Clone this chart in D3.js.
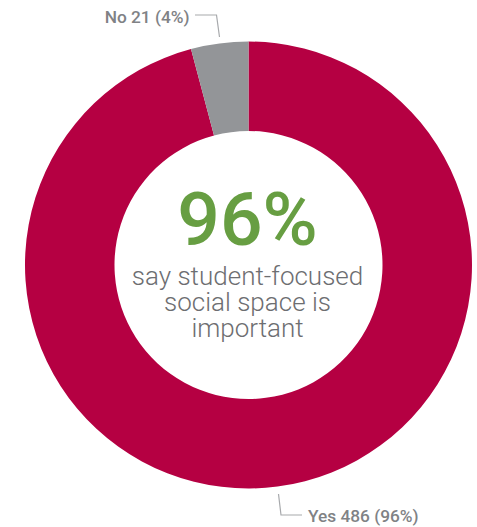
<!DOCTYPE html>
<html><head><meta charset="utf-8">
<script src="https://cdn.jsdelivr.net/npm/d3@7"></script>
<style>html,body{margin:0;padding:0;background:#fff;}svg{display:block;}</style>
</head><body>
<script>
const categories = ["Yes", "No"];
const counts = [486, 21];
const percents = [96, 4];
const colors = ["#B50042", "#939598"];
const headline = "96%";
const subtitleLines = ["say student-focused", "social space is", "important"];

const W = 477, H = 527;
const cx = 248.5, cy = 265, rOuter = 223.5, rInner = 134;

const svg = d3.select("body").append("svg").attr("width", W).attr("height", H);
const g = svg.append("g").attr("transform", `translate(${cx},${cy})`);

const data = categories.map((c, i) => ({cat: c, count: counts[i], pct: percents[i], color: colors[i]}));
const pie = d3.pie().sort(null).value(d => d.count);
const arc = d3.arc().innerRadius(rInner).outerRadius(rOuter);

g.selectAll("path").data(pie(data)).join("path")
  .attr("d", arc).attr("fill", d => d.data.color);

g.append("text").attr("x", -1).attr("y", 245 - cy).attr("text-anchor", "middle")
  .attr("font-family", "Roboto").attr("font-weight", 500).attr("font-size", 75)
  .attr("fill", "#679E42").text(headline);

g.selectAll("text.sub").data(subtitleLines).join("text").attr("class", "sub")
  .attr("x", -1).attr("y", (d, i) => 285 - cy + i * 26).attr("text-anchor", "middle")
  .attr("font-family", "Roboto").attr("font-weight", 300).attr("font-size", 26)
  .attr("fill", "#6D6E71").text(d => d);

// labels with leader lines
const lineColor = "#A7A9AC";
const labelFont = {family: "Roboto", weight: 500, size: 17.3, color: "#808285"};
// No label
svg.append("polyline").attr("points", "195,15 216.5,15 219.5,37")
  .attr("fill", "none").attr("stroke", lineColor).attr("stroke-width", 1.2);
svg.append("text").attr("x", 189.5).attr("y", 23).attr("text-anchor", "end")
  .attr("font-family", labelFont.family).attr("font-weight", labelFont.weight).attr("font-size", labelFont.size)
  .attr("fill", labelFont.color).text(`${data[1].cat} ${data[1].count} (${data[1].pct}%)`);
// Yes label
svg.append("polyline").attr("points", "278.5,494 281,515 302,515")
  .attr("fill", "none").attr("stroke", lineColor).attr("stroke-width", 1.2);
svg.append("text").attr("x", 308).attr("y", 522).attr("text-anchor", "start")
  .attr("font-family", labelFont.family).attr("font-weight", labelFont.weight).attr("font-size", labelFont.size)
  .attr("fill", labelFont.color).text(`${data[0].cat} ${data[0].count} (${data[0].pct}%)`);
</script>
</body></html>
